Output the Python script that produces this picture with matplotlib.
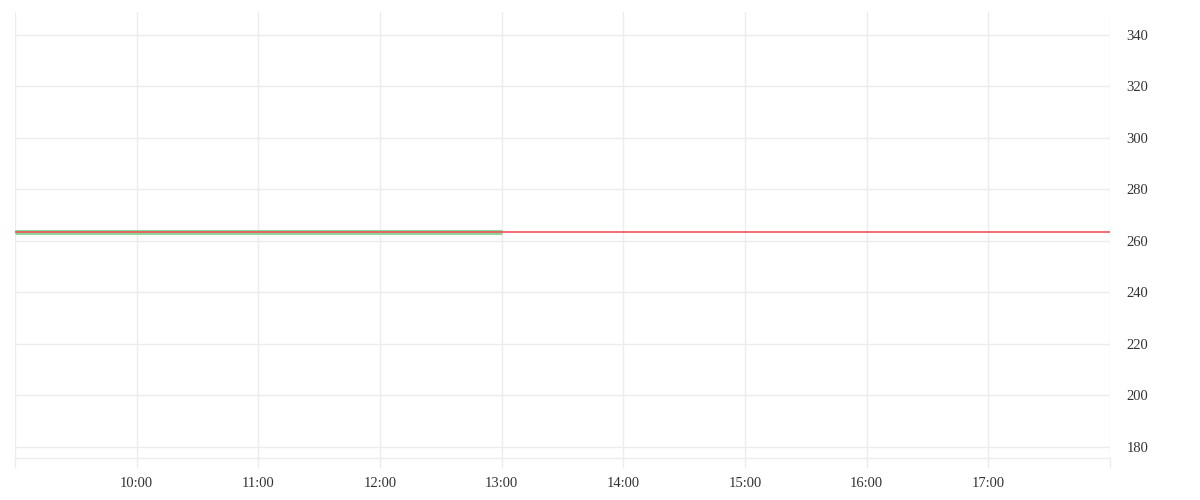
import numpy as np
import pandas as pd
import matplotlib
matplotlib.use('Agg')
import matplotlib.pyplot as plt
import matplotlib.dates as mdates

# intraday data (flat so far)
price_times = ['09:00', '10:00', '11:00', '12:00', '13:00']
price_vals = [263.5, 263.5, 263.5, 263.5, 263.5]
prev_close = 263.5
ref_times = ['09:00', '18:00']
hour_ticks = ['09:00', '10:00', '11:00', '12:00', '13:00', '14:00', '15:00', '16:00', '17:00', '18:00']
y_ticks = [180, 200, 220, 240, 260, 280, 300, 320, 340]

day = '2024-01-02 '
t_price = pd.to_datetime([day + t for t in price_times])
t_ref = pd.to_datetime([day + t for t in ref_times])
t_ticks = pd.to_datetime([day + t for t in hour_ticks])

plt.rcParams['font.family'] = ['Liberation Serif', 'DejaVu Serif']
grid_c = '#ececec'

fig = plt.figure(figsize=(12, 5), dpi=100)
ax = fig.add_axes([15/1200, 42/500, 1095/1200, 446/500])

ax.plot(t_price, price_vals, color='#8fd49a', lw=3.6, solid_capstyle='butt', zorder=3)
ax.plot(t_ref, [prev_close, prev_close], color='#f2545b', lw=1.2, solid_capstyle='butt', zorder=4)

ax.set_xlim(t_ticks[0], t_ticks[-1])
ax.set_ylim(175.7, 348.9)

ax.set_xticks(t_ticks)
labels = [''] + hour_ticks[1:-1] + ['']
ax.set_xticklabels(labels)

ax.yaxis.tick_right()
ax.set_yticks(y_ticks)
ax.set_yticklabels([str(v) for v in y_ticks])

ax.grid(True, color=grid_c, lw=1)
ax.tick_params(axis='x', length=7.5, width=1, color=grid_c, pad=6, labelsize=10.5, labelcolor='#333333')
ax.tick_params(axis='y', length=0, pad=12, labelsize=10.5, labelcolor='#333333')

for s in ['top', 'left', 'right']:
    ax.spines[s].set_visible(False)
ax.spines['bottom'].set_color(grid_c)
ax.spines['bottom'].set_linewidth(1)

fig.savefig('out.png', dpi=100, facecolor='white')
